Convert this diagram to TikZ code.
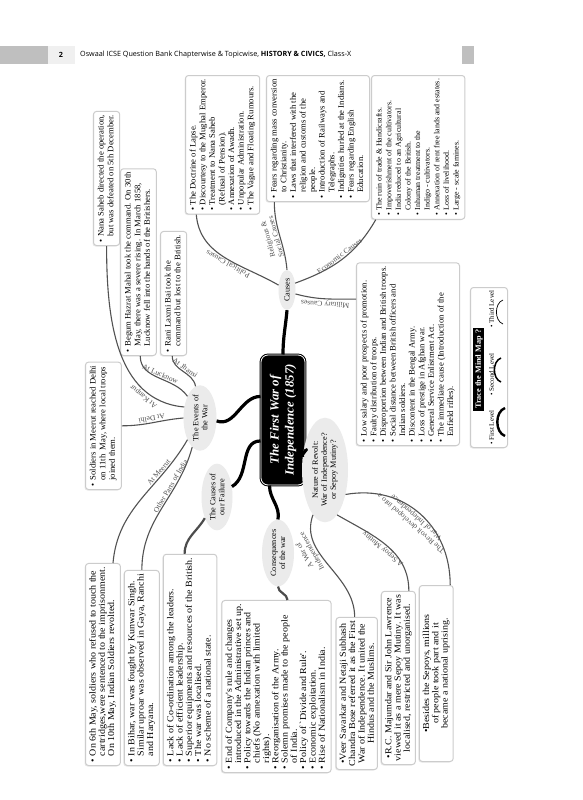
\documentclass[tikz,border=0pt]{standalone}
\usepackage{fontspec}
\setmainfont{Liberation Serif}[FakeStretch=1.03]
\newfontfamily\widefont{Liberation Serif}[FakeStretch=1.1]
\newfontfamily\hdrfont{Open Sans}
\usetikzlibrary{shapes.geometric,calc,shadows}
\newcommand\itB{\textbullet&}
\newcommand\itC{&}
\newcommand\blist[1]{\begin{tabular}{@{}l@{\hspace{2.5pt}}l@{}}#1\end{tabular}}
\begin{document}
\begin{tikzpicture}[x=1pt,y=1pt,
  mbox/.style={draw=gray!40, line width=1pt, rounded corners=3pt, fill=white, inner sep=3.5pt, rotate=90,
    font=\fontsize{8.4}{9.6}\selectfont, drop shadow={opacity=0.18, shadow xshift=-1pt, shadow yshift=-1pt}},
  lowbox/.style={mbox, font=\widefont\fontsize{9.1}{9.3}\selectfont},
  lowboxc/.style={lowbox, align=center},
  ell/.style={ellipse, fill=gray!16, inner sep=0pt, rotate=90, align=center, font=\fontsize{8}{9}\selectfont},
  lvone/.style={line width=3.2pt, black},
  lvtwo/.style={line width=1.1pt, black!68},
  lvmid/.style={line width=2.2pt, black!70},
  lbl/.style={font=\fontsize{7.4}{8.2}\selectfont, sloped, allow upside down, inner sep=1pt},
  hdr/.style={font=\hdrfont\fontsize{7.2}{8}\selectfont, inner sep=0pt},
  lvtxt/.style={rotate=90, font=\fontsize{6.8}{7}\selectfont, inner sep=0pt, anchor=north west},
]
\fill[white] (0,0) rectangle (583,-800);
\path[use as bounding box] (0,0) rectangle (583,-800);

% header
\fill[gray!50] (0,-46) rectangle (48,-64);
\fill[gray!12] (48,-46) rectangle (75,-64);
\fill[gray!50] (462,-46) rectangle (474,-64);
\node[hdr] (pgno) at (61,-55) {\bfseries 2};
\node[hdr, anchor=west] (hdtxt) at (80,-55) {Oswaal ICSE Question Bank Chapterwise \& Topicwise, \textbf{HISTORY \& CIVICS,} Class-X};

% central node
\node[rotate=90, fill=black, draw=black, double=white, double distance=0.8pt, line width=1pt,
  rounded corners=7pt, text=white, align=center, font=\fontsize{12.5}{15}\selectfont\bfseries\itshape,
  minimum width=130pt, minimum height=44pt] (title) at (283,-420) {The First War of\\Independence (1857)};

% ellipses
\node[ell, minimum width=40pt, minimum height=17pt] (causes) at (287,-290) {Causes};
\node[ell, minimum width=62pt, minimum height=33pt] (events) at (200,-418) {The Events of\\the War};
\node[ell, minimum width=58pt, minimum height=31pt] (failure) at (217,-497) {The Causes of\\our Failure};
\node[ell, minimum width=58pt, minimum height=32pt] (conseq) at (278,-553) {Consequences\\of the war};
\node[ell, minimum width=96pt, minimum height=46pt] (nature) at (325,-470) {Nature of Revolt:\\War of Independence?\\or Sepoy Mutiny?};

% top row boxes
\node[mbox, anchor=north east] (political) at (185,-75) {\blist{%
\itB The Doctrine of Lapse.\\
\itB Discourtesy to the Mughal Emperor.\\
\itB Treatment to Nana Saheb\\
\itC (Refusal of Pension).\\
\itB Annexation of Awadh.\\
\itB Unpopular Administration.\\
\itB The Vague and Floating Rumours.}};

\node[mbox, anchor=north east] (religious) at (266,-75) {\blist{%
\itB Fears regarding mass conversion\\
\itC to Christianity.\\
\itB Laws that interfered with the\\
\itC religion and customs of the\\
\itC people.\\
\itB Introduction of Railways and\\
\itC Telegraphs.\\
\itB Indignities hurled at the Indians.\\
\itB Fears regarding English\\
\itC Education.}};

\node[mbox, anchor=north east, font=\fontsize{7.7}{9.6}\selectfont] (economic) at (371,-75) {\blist{%
\itB The ruin of trade \& Handicrafts.\\
\itB Impoverishment of the cultivators.\\
\itB India reduced to an Agricultural\\
\itC Colony of the British.\\
\itB Inhuman treatment to the\\
\itC Indigo - cultivators.\\
\itB Annexation of rent free lands and estates.\\
\itB Loss of livelihood.\\
\itB Large - scale famines.}};

\node[mbox, anchor=north west] (military) at (356,-446) {\blist{%
\itB Low salary and poor prospects of promotion.\\
\itB Faulty distribution of troops.\\
\itB Disproportion between Indian and British troops.\\
\itB Social distance between British officers and\\
\itC Indian soldiers.\\
\itB Discontent in the Bengal Army.\\
\itB Loss of prestige in Afghan war.\\
\itB General Service Enlistment Act.\\
\itB The immediate cause (Introduction of the\\
\itC Enfield rifles).}};

% events boxes
\node[mbox, anchor=north west] (nana) at (93,-246) {\blist{%
\itB Nana Saheb directed the operation,\\
\itC but was defeated on 5th December.}};
\node[mbox, anchor=north west] (begum) at (120,-356) {\blist{%
\itB Begum Hazrat Mahal took the command. On 30th\\
\itC May, there was a severe rising. In March 1858,\\
\itC Lucknow fell into the hands of the Britishers.}};
\node[mbox, anchor=north west] (rani) at (160,-356) {\blist{%
\itB Rani Laxmi Bai took the\\
\itC command but lost to the British.}};
\node[mbox, anchor=north west] (soldiers) at (85,-490) {\blist{%
\itB Soldiers in Meerut reached Delhi\\
\itC on 11th\ \ May, where local troops\\
\itC joined them.}};

% bottom row boxes
\node[lowbox, anchor=north west] (may6) at (85,-766) {\blist{%
\itB On 6th May, soldiers who refused to touch the\\
\itC cartridges,were sentenced to the imprisonment.\\
\itC On 10th May, Indian Soldiers revolted.}};
\node[lowbox, anchor=north west] (bihar) at ($(may6.south west)+(3,0)$) {\blist{%
\itB In Bihar, war was fought by Kunwar Singh.\\
\itC Similar uproar was observed in Gaya, Ranchi\\
\itC and Haryana.}};
\node[lowbox, anchor=north west] (lfail) at ($(bihar.south west)+(3,0)$) {\blist{%
\itB Lack of Co-ordination among the leaders.\\
\itB Lack of efficient leadership.\\
\itB Superior equipments and resources of the British.\\
\itB The war was localised.\\
\itB No scheme of a national state.}};
\node[lowbox, anchor=north west] (cbox) at ($(lfail.south west)+(4,-7)$) {\blist{%
\itB End of Company's rule and changes\\
\itC introduced in the Administrative set up.\\
\itB Policy towards the Indian princes and\\
\itC chiefs (No annexation with limited\\
\itC rights).\\
\itB Reorganisation of the Army.\\
\itB Solemn promises made to the people\\
\itC of India.\\
\itB Policy of `Divide and Rule'.\\
\itB Economic exploitation.\\
\itB Rise of Nationalism in India.}};
\node[lowboxc, anchor=north west] (veer) at ($(cbox.south west)+(4,3)$) {%
\textbullet Veer Savarkar and Netaji Subhash\\
Chandra Bose referred it as the First\\
War of Independence. It united the\\
Hindus and the Muslims.};
\node[lowboxc, anchor=north west] (rc) at ($(veer.south west)+(3,5)$) {%
\textbullet R.C. Majumdar and Sir John Lawrence\\
viewed it as a mere Sepoy Mutiny. It was\\
localised, restricted and unorganised.};
\node[lowboxc, anchor=north west, minimum width=176pt] (besides) at ($(rc.south west)+(3,3)$) {%
\textbullet Besides the Sepoys, millions\\
of people took part and it\\
became a national uprising.};

% trace box
\node[mbox, minimum width=160pt, minimum height=37pt, anchor=north west] (trace) at (470,-448) {};
\node[rotate=90, fill=black, text=white, font=\fontsize{8}{8}\selectfont\bfseries, inner sep=2pt, anchor=north west] (tbar) at (473,-411) {Trace the Mind Map ?};
\node[lvtxt] (lv1) at (489,-445) {\textbullet\ First Level};
\node[lvtxt] (lv2) at (489,-396) {\textbullet\ Second Level};
\node[lvtxt] (lv3) at (489,-328) {\textbullet\ Third Level};
\draw[line width=2.4pt] (505,-408) to[out=200,in=160] (505,-436);
\draw[line width=1.5pt] (501,-358) to[out=200,in=160] (501,-382);
\draw[line width=0.7pt] (503,-300) to[out=200,in=160] (503,-324);

% level 1 connectors
\draw[lvone] (title.east) to[out=90,in=-95] (causes.west);
\draw[lvone] ($(title.north east)!0.32!(title.north west)$) to[out=180,in=-20] (events.-100);
\draw[lvone] ($(title.north east)!0.66!(title.north west)$) to[out=180,in=30] (failure.-55);
\draw[lvone] ($(title.north west)!0.2!(title.south west)$) to[out=-90,in=80] (conseq.east);
\draw[lvone] ($(title.south east)!0.72!(title.south west)$) to[out=0,in=150] (nature.60);

% causes branches
\draw[lvtwo] (causes.60) to[out=150,in=-85] node[lbl,pos=0.45,above]{Political Causes} ($(political.north west)!0.15!(political.south west)$);
\draw[lvtwo] (causes.0) to[out=95,in=-90] node[lbl,pos=0.5,above,align=center]{Religious \&\\Social Causes} ($(religious.north west)!0.08!(religious.south west)$);
\draw[lvtwo] (causes.-50) to[out=20,in=-120] node[lbl,pos=0.5,above]{Economic Causes} ($(economic.north west)!0.05!(economic.south west)$);
\draw[lvtwo] ($(military.north east)!0.2!(military.north west)$) to[out=180,in=-15] node[lbl,pos=0.5,above]{Military Causes} (causes.-115);

% events branches
\draw[lvtwo] ($(may6.north east)!0.78!(may6.south east)$) to[out=85,in=240] node[lbl,pos=0.72,above]{At Meerut} (events.150);
\draw[lvtwo] ($(bihar.north east)!0.5!(bihar.south east)$) to[out=90,in=255] node[lbl,pos=0.68,above]{Other Parts of India} (events.165);
\draw[lvtwo] (events.90) to[out=185,in=0] node[lbl,pos=0.5,below]{At Delhi} (soldiers.south);
\draw[lvtwo] (events.55) to[out=175,in=-90] node[lbl,pos=0.22,above]{At Kanpur} ($(nana.north west)!0.5!(nana.south west)$);
\draw[lvtwo] ($(begum.north west)!0.55!(begum.south west)$) to[out=-90,in=125] node[lbl,pos=0.5,above]{At Lucknow} (events.30);
\draw[lvtwo] ($(rani.north west)!0.45!(rani.south west)$) to[out=-90,in=100] node[lbl,pos=0.5,above]{At Jhansi} (events.8);

% failure / consequences
\draw[lvmid] (failure.150) to[out=240,in=90] ($(lfail.north east)!0.4!(lfail.south east)$);
\draw[lvmid] (conseq.west) to[out=-90,in=90] ($(cbox.north east)!0.6!(cbox.south east)$);

% nature branches
\draw[lvtwo] ($(veer.north east)!0.45!(veer.south east)$) to[out=90,in=250] node[lbl,pos=0.68,above,align=center]{A War of\\Independence} (nature.165);
\draw[lvtwo] ($(rc.north east)!0.8!(rc.south east)$) to[out=90,in=-30] node[lbl,pos=0.5,above]{A Sepoy Mutiny} (nature.-165);
\draw[lvtwo] ($(besides.north east)!0.9!(besides.south east)$) to[out=90,in=10,looseness=1.1] node[lbl,pos=0.5,above,align=center]{The Revolt developed into a\\War of Independence} (nature.-140);
\end{tikzpicture}
\end{document}
